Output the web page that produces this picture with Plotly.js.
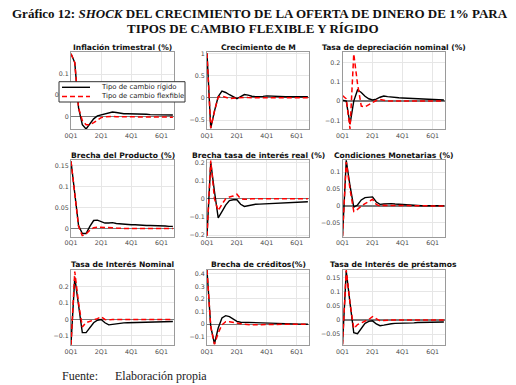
<!DOCTYPE html>
<html><head><meta charset="utf-8">
<script src="https://cdn.plot.ly/plotly-3.0.1.min.js"></script>
<style>html,body{margin:0;padding:0;background:#fff;}</style>
</head><body>
<div id="chart" style="width:516px;height:385px;"></div>
<script>
// ---------------- DATA ----------------
const quarters = [0,1,2,3,4,5,6,7,8,9,10,11,12,13,14,15,16,17,18,19,20,21,22,23,24,25,26,27];
const xTickVals = [0,8,16,24];
const xTickText = ['0Q1','2Q1','4Q1','6Q1'];
const seriesNames = ['Tipo de cambio rígido','Tipo de cambio flexfible'];
const panelTitles = ['Inflación trimestral (%)','Crecimiento de M','Tasa de depreciación nominal (%)',
  'Brecha del Producto (%)','Brecha tasa de interés real (%)','Condiciones Monetarias (%)',
  'Tasa de Interés Nominal','Brecha de créditos(%)','Tasa de Interés de préstamos'];

const inflRigido   = [0.148,0.127,0.02,-0.02,-0.03,-0.018,-0.006,0.001,0.003,0.005,0.008,0.01,0.009,0.007,0.006,0.006,0.006,0.006,0.005,0.005,0.005,0.004,0.004,0.004,0.004,0.003,0.003,0.003];
const inflFlexible = [0.148,0.127,0.02,-0.01,-0.02,-0.02,-0.015,-0.008,-0.003,-0.001,0,0,-0.001,-0.001,-0.002,-0.002,-0.002,-0.002,-0.002,-0.002,-0.002,-0.002,-0.002,-0.002,-0.002,-0.002,-0.002,-0.002];

const mRigido   = [1.0,-0.68,-0.3,0.03,0.15,0.12,0.07,0.02,-0.02,0.03,0.075,0.06,0.035,0.028,0.027,0.032,0.045,0.038,0.03,0.028,0.026,0.025,0.025,0.025,0.025,0.025,0.025,0.025];
const mFlexible = [1.0,-0.68,-0.3,0.02,0.04,0.01,-0.015,-0.01,0,0.01,0.01,0.005,0,0,0,0,0,0,0,0,0,0,0,0,0,0,0,0];

const depRigido   = [0.005,0,-0.12,0,0.058,0.045,0.025,0.012,0.006,0.01,0.02,0.026,0.023,0.02,0.018,0.017,0.016,0.015,0.014,0.013,0.012,0.011,0.01,0.009,0.008,0.007,0.006,0.006];
const depFlexible = [0.028,0.012,-0.145,0.245,0.09,-0.026,-0.03,-0.02,-0.008,0.003,0.008,0.004,0,0,0,0,0,0,0,0,0,0,0,0,0,0,0,0];

const prodRigido   = [0.16,0.078,0.007,-0.012,-0.012,0.005,0.019,0.02,0.016,0.013,0.013,0.014,0.012,0.011,0.01,0.009,0.009,0.009,0.008,0.008,0.007,0.007,0.007,0.006,0.006,0.006,0.005,0.005];
const prodFlexible = [0.16,0.078,0.005,-0.017,-0.013,-0.004,0.002,0.003,0.003,0.002,0.002,0.002,0.001,0,0,0,0,0,0,0,0,0,0,0,0,0,0,0];

const realRigido   = [-0.2,0.2,0.04,-0.105,-0.07,-0.035,-0.01,-0.005,-0.005,-0.03,-0.042,-0.037,-0.032,-0.03,-0.029,-0.028,-0.027,-0.026,-0.025,-0.024,-0.023,-0.022,-0.021,-0.02,-0.019,-0.018,-0.017,-0.016];
const realFlexible = [-0.205,0.21,0,-0.065,-0.03,0,0.01,0.015,0.025,0,-0.003,0,0,0,0,0,0,0,0,0,0,0,0,0,0,0,0,0];

const condRigido   = [-0.09,0.135,0.06,-0.003,0.003,0.018,0.025,0.025,0.027,0.012,0.005,0.006,0.007,0.007,0.006,0.005,0.004,0.003,0.002,0.002,0.001,0.001,0.001,0.001,0.001,0.001,0.001,0.001];
const condFlexible = [-0.09,0.13,0.05,-0.016,-0.01,0,0.007,0.014,0.02,0.005,0,0.002,0.002,0.001,0,0,0,0,0,0,0,0,0,0,0,0,0,0];

const nomRigido   = [-0.15,0.255,0.086,-0.08,-0.08,-0.05,-0.02,-0.005,0,-0.02,-0.033,-0.03,-0.026,-0.023,-0.021,-0.02,-0.019,-0.018,-0.017,-0.016,-0.015,-0.015,-0.014,-0.014,-0.013,-0.013,-0.012,-0.012];
const nomFlexible = [-0.155,0.29,0.1,-0.045,-0.02,-0.01,-0.003,0.005,0.016,0,-0.003,0,0,0,0,0,0,0,0,0,0,0,0,0,0,0,0,0];

const credRigido   = [0.43,-0.02,-0.155,-0.03,0.05,0.068,0.06,0.04,0.022,0.016,0.015,0.013,0.01,0.008,0.007,0.006,0.005,0.004,0.004,0.003,0.003,0.002,0.002,0.002,0.001,0.001,0.001,0];
const credFlexible = [0.43,-0.02,-0.16,-0.07,-0.005,0.02,0.02,0.013,0.008,0.004,0,-0.004,-0.005,-0.004,-0.003,-0.003,-0.002,-0.002,-0.001,-0.001,-0.001,0,0,0,0,0,0,0];

const prestRigido   = [-0.085,0.172,0.06,-0.045,-0.048,-0.03,-0.012,-0.005,-0.003,-0.014,-0.02,-0.018,-0.015,-0.013,-0.012,-0.012,-0.011,-0.011,-0.01,-0.01,-0.009,-0.009,-0.009,-0.008,-0.008,-0.008,-0.007,-0.007];
const prestFlexible = [-0.087,0.176,0.06,-0.03,-0.016,-0.01,-0.004,0.002,0.012,0.004,-0.003,-0.002,0,0,0,0,0,0,0,0,0,0,0,0,0,0,0,0];

const yTicks = [
  [0,0.05,0.1], [-0.5,0,0.5,1], [-0.1,0,0.1,0.2],
  [0,0.05,0.1,0.15], [-0.2,-0.1,0,0.1,0.2], [-0.05,0,0.05,0.1],
  [-0.1,0,0.1,0.2], [-0.1,0,0.1,0.2,0.3,0.4], [-0.05,0,0.05,0.1,0.15]
];
const yRanges = [
  [-0.03,0.152], [-0.7,1.03], [-0.145,0.255],
  [-0.019,0.163], [-0.207,0.213], [-0.09,0.136],
  [-0.155,0.30], [-0.165,0.43], [-0.088,0.176]
];
const rigidoSeries   = [inflRigido,mRigido,depRigido,prodRigido,realRigido,condRigido,nomRigido,credRigido,prestRigido];
const flexibleSeries = [inflFlexible,mFlexible,depFlexible,prodFlexible,realFlexible,condFlexible,nomFlexible,credFlexible,prestFlexible];

// ---------------- LAYOUT ----------------
const W = 516, H = 385;
const colPx = [[71,174],[207,309],[342.5,445]];
const rowPx = [[52,129],[160,236.5],[270,345]];
const titleYpx = [47.3,155,264.3];
const px = v => v/W, py = v => 1 - v/H;

const traces = [];
const layout = {
  width: W, height: H,
  margin: {l:0,r:0,t:0,b:0},
  paper_bgcolor: '#fff', plot_bgcolor: '#fff',
  showlegend: false,
  annotations: [], shapes: []
};

const rigidoLine = {color:'#000', width:1.4};
const flexLine = {color:'#ff0000', width:1.5, dash:'5px,3px'};

for (let i=0;i<9;i++){
  const r = Math.floor(i/3), c = i%3;
  const sfx = i===0 ? '' : String(i+1);
  const xa = 'x'+sfx, ya = 'y'+sfx;
  traces.push({x:quarters, y:rigidoSeries[i], xaxis:xa, yaxis:ya, type:'scatter', mode:'lines',
    name:seriesNames[0], line:rigidoLine});
  traces.push({x:quarters, y:flexibleSeries[i], xaxis:xa, yaxis:ya, type:'scatter', mode:'lines',
    name:seriesNames[1], line:flexLine});
  const axCommon = {showline:true, mirror:true, linecolor:'#9a9a9a', linewidth:1,
    showgrid:true, gridcolor:'#e6e6e6', gridwidth:1, ticks:'',
    tickfont:{family:'DejaVu Sans', size:6.3, color:'#4a4a4a'}, fixedrange:true};
  layout['xaxis'+sfx] = Object.assign({}, axCommon, {
    domain:[px(colPx[c][0]), px(colPx[c][1])], anchor:ya, range:[0,27.3],
    tickmode:'array', tickvals:xTickVals, ticktext:xTickText, zeroline:false});
  layout['yaxis'+sfx] = Object.assign({}, axCommon, {
    domain:[py(rowPx[r][1]), py(rowPx[r][0])], anchor:xa, range:yRanges[i],
    tickmode:'array', tickvals:yTicks[i], zeroline:true, zerolinecolor:'#7a7a7a', zerolinewidth:1.3});
  layout.annotations.push({text:panelTitles[i], xref:'paper', yref:'paper',
    x:px((colPx[c][0]+colPx[c][1])/2), y:py(titleYpx[r]), xanchor:'center', yanchor:'middle',
    showarrow:false, borderpad:0,
    font:{family:'DejaVu Sans', size:7.6, weight:'bold', color:'#111'}});
}

// legend box (drawn over the first panel, like the reference)
layout.shapes.push({type:'rect', xref:'paper', yref:'paper', x0:px(59), x1:px(185), y0:py(102), y1:py(81.7),
  fillcolor:'#fff', line:{color:'#333', width:1}, layer:'above'});
layout.shapes.push({type:'line', xref:'paper', yref:'paper', x0:px(62), x1:px(90), y0:py(87.3), y1:py(87.3),
  line:rigidoLine, layer:'above'});
layout.shapes.push({type:'line', xref:'paper', yref:'paper', x0:px(62), x1:px(90), y0:py(96.5), y1:py(96.5),
  line:flexLine, layer:'above'});
seriesNames.forEach((n,k)=>{
  layout.annotations.push({text:n, xref:'paper', yref:'paper', x:px(99.5), y:py(k===0?87.3:96.5),
    xanchor:'left', yanchor:'middle', showarrow:false, borderpad:0,
    font:{family:'DejaVu Sans', size:6.9, color:'#222'}});
});

// figure title and source
layout.annotations.push({text:'<b>Gráfico 12: <i>SHOCK</i> DEL CRECIMIENTO DE LA OFERTA DE DINERO DE 1% PARA</b>',
  xref:'paper', yref:'paper', x:px(259.5), y:py(13.5), xanchor:'center', yanchor:'middle', showarrow:false, borderpad:0,
  font:{family:'Liberation Serif', size:13, color:'#111'}});
layout.annotations.push({text:'<b>TIPOS DE CAMBIO FLEXIBLE Y RÍGIDO</b>',
  xref:'paper', yref:'paper', x:px(253), y:py(28.5), xanchor:'center', yanchor:'middle', showarrow:false, borderpad:0,
  font:{family:'Liberation Serif', size:13, color:'#111'}});
layout.annotations.push({text:'Fuente:', xref:'paper', yref:'paper', x:px(60), y:py(375.5),
  xanchor:'left', yanchor:'middle', showarrow:false, font:{family:'Liberation Serif', size:12, color:'#222'}});
layout.annotations.push({text:'Elaboración propia', xref:'paper', yref:'paper', x:px(113), y:py(375.5),
  xanchor:'left', yanchor:'middle', showarrow:false, font:{family:'Liberation Serif', size:12, color:'#222'}});

Plotly.newPlot('chart', traces, layout, {staticPlot:true, displayModeBar:false});
</script>
</body></html>
